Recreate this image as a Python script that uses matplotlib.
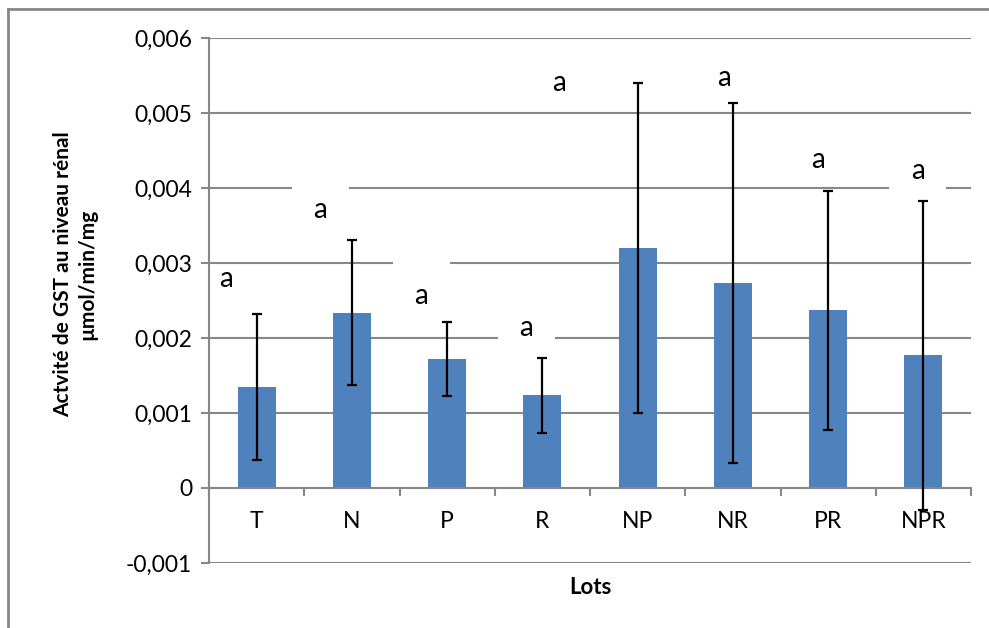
import matplotlib.pyplot as plt
from matplotlib.patches import Rectangle
from matplotlib.ticker import FuncFormatter

lots = ['T', 'N', 'P', 'R', 'NP', 'NR', 'PR', 'NPR']
gst = [0.00135, 0.00234, 0.00172, 0.00124, 0.00320, 0.00273, 0.00237, 0.00177]
err = [0.00097, 0.00097, 0.00049, 0.00050, 0.00220, 0.00240, 0.00159, 0.00206]
lettres = ['a', 'a', 'a', 'a', 'a', 'a', 'a', 'a']

# where each letter sits (x in category units, y in data units)
lettre_x = [-0.32, 0.67, 1.73, 2.83, 3.17, 4.91, 5.89, 6.94]
lettre_y = [0.00279, 0.00371, 0.00256, 0.00214, 0.00540, 0.00546, 0.00438, 0.00423]
# white box behind each letter: pixels above / below the letter centre
box_haut = [12, 26, 38, 20, 20, 20, 20, 20]
box_bas = [20, 20, 20, 20, 20, 20, 20, 20]

plt.rcParams['font.family'] = ['Lato', 'DejaVu Sans']
gris = '#878787'
bleu = '#4F81BD'

W, H = 989, 628
fig = plt.figure(figsize=(W / 100, H / 100), dpi=100)
x0, x1, y0, y1 = 209, 971, 38, 563
ax = fig.add_axes([x0 / W, 1 - y1 / H, (x1 - x0) / W, (y1 - y0) / H])
ax.set_xlim(-0.5, len(lots) - 0.5)
ax.set_ylim(-0.001, 0.006)

# outer chart frame (top and left edges)
fig.add_artist(plt.Line2D([8 / W, 1], [1 - 9 / H, 1 - 9 / H], color=gris, lw=2))
fig.add_artist(plt.Line2D([8 / W, 8 / W], [0, 1 - 9 / H], color=gris, lw=2))

for v in [-0.001, 0.001, 0.002, 0.003, 0.004, 0.005, 0.006]:
    ax.axhline(v, color=gris, lw=1.5, zorder=0)

x = list(range(len(lots)))
ax.bar(x, gst, width=0.4, color=bleu, zorder=2)
ax.errorbar(x, gst, yerr=err, fmt='none', ecolor='black', elinewidth=1.6,
            capsize=3.8, capthick=1.6, zorder=4)

# category axis at y = 0 with ticks between groups
ax.axhline(0, color=gris, lw=1.5, zorder=3)
k = 0.001 / 75
for i in range(len(lots) + 1):
    ax.plot([i - 0.5, i - 0.5], [0, -7 * k], color=gris, lw=1.5, zorder=3, clip_on=False)
for i, lab in enumerate(lots):
    ax.text(i, -0.00045, lab, ha='center', va='center', fontsize=16.5)

for xl, yl, t, hu, hb in zip(lettre_x, lettre_y, lettres, box_haut, box_bas):
    ax.add_patch(Rectangle((xl - 0.3, yl - hb * k), 0.6, (hu + hb) * k,
                           facecolor='white', edgecolor='none', zorder=1))
    ax.text(xl, yl, t, ha='center', va='center', fontsize=20, zorder=5)

for s in ['top', 'right', 'bottom']:
    ax.spines[s].set_visible(False)
ax.spines['left'].set_color(gris)
ax.spines['left'].set_linewidth(1.5)
ax.set_xticks([])
ax.set_yticks([-0.001, 0, 0.001, 0.002, 0.003, 0.004, 0.005, 0.006])
ax.yaxis.set_major_formatter(FuncFormatter(
    lambda v, p: '0' if abs(v) < 1e-9 else ('%.3f' % v).replace('.', ',')))
ax.tick_params(axis='y', length=6, width=1.5, color=gris, labelsize=16.5, pad=6)

fig.text(75 / W, 1 - 274 / H, 'Actvité de GST au niveau rénal\nµmol/min/mg',
         rotation=90, ha='center', va='center', fontsize=15, fontweight='bold',
         linespacing=1.25)
fig.text(590 / W, 1 - 587 / H, 'Lots', ha='center', va='center',
         fontsize=16, fontweight='bold')

fig.savefig('out.png', dpi=100)
